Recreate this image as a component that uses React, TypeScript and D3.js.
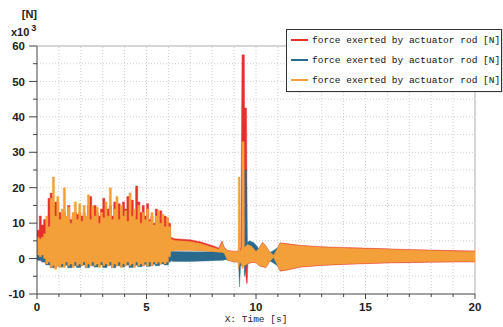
import React, { useEffect, useRef } from "react";
import * as d3 from "d3";

// envelopes of the three signals: [time s, upper, lower] in kN
const redBand: [number, number, number][] = [
  [0.0, 8, 0], [0.1, 12, -0.5], [0.2, 9.5, 0], [0.3, 11, -1], [0.4, 10, -1.5],
  [0.5, 17, -1], [0.6, 18.5, -2], [0.7, 15, -2], [0.8, 16, -2.5], [0.9, 16, -2],
  [1.0, 13, -2], [1.1, 12, -1.5], [1.2, 13, -2], [1.3, 10, -1], [1.4, 15, -2],
  [1.5, 11, -1.5], [1.6, 12, -2], [1.7, 13, -1], [1.8, 12.5, -2], [1.9, 13, -1.5],
  [2.0, 12, -2], [2.1, 13, -1], [2.2, 11, -2], [2.3, 15, -1.5], [2.4, 17.5, -2],
  [2.5, 12, -1], [2.6, 15, -2], [2.7, 13, -1.5], [2.8, 12, -2], [2.9, 14, -1],
  [3.0, 17, -2], [3.1, 13, -1.5], [3.2, 14, -2], [3.3, 15, -1], [3.4, 12, -2],
  [3.5, 16, -1.5], [3.6, 13, -2], [3.7, 15.5, -1], [3.8, 12, -2], [3.9, 16, -1.5],
  [4.0, 14, -2], [4.1, 17.5, -1], [4.2, 15, -2], [4.3, 16.5, -1.5], [4.4, 12, -2],
  [4.5, 20.5, -1], [4.6, 16, -2], [4.7, 13, -1.5], [4.8, 15, -2], [4.9, 12, -1],
  [5.0, 15.5, -2], [5.1, 11, -1], [5.2, 12, -2], [5.3, 10, -1], [5.4, 14, -1.5],
  [5.5, 12, -1], [5.6, 13.5, -1.5], [5.7, 11, -1], [5.8, 12, -1.5], [5.9, 11.5, -1],
  [6.0, 10, 0.5], [6.1, 6, 2], [6.3, 5.6, 2.4], [7.0, 5.3, 2.4], [7.5, 4.7, 2.3],
  [8.0, 3.7, 2], [8.3, 3, 1.8], [8.45, 5, 1.8], [8.55, 3.2, 1.5], [8.7, 2.3, -0.5],
  [9.0, 2.1, -1], [9.15, 2.1, -1], [9.3, 3, -2], [9.36, 57.5, -2], [9.47, 57.5, -2],
  [9.48, 42.5, -2], [9.57, 42.5, -7], [9.6, 4, -7], [9.63, 4, -1.5], [9.8, 3.6, -1.1],
  [10.0, 2.1, -1.1], [10.15, 3.1, -2.1], [10.3, 4.6, -2.3], [10.45, 3.6, -2.6],
  [10.6, 2.1, -1.1], [10.8, 1.1, 0.2], [10.95, 2.6, -1.6], [11.1, 4.45, -3.55],
  [11.5, 4.15, -3.15], [12, 3.75, -2.45], [13, 3.35, -1.95], [14, 3.15, -1.65],
  [15, 2.95, -1.45], [16, 2.75, -1.25], [17, 2.55, -1.15], [18, 2.4, -1.05],
  [19, 2.25, -1.0], [20, 2.15, -0.95],
];

const blueBand: [number, number, number][] = [
  [0.0, 4, -0.5], [0.2, 5, -1], [0.4, 7, -1.8], [0.6, 8, -2.6], [0.8, 8, -1.8],
  [1.0, 8, -2.4], [1.2, 8, -1.9], [1.4, 8, -2.6], [1.6, 8, -2], [1.8, 8, -2.5],
  [2.0, 8, -1.8], [2.2, 8, -2.6], [2.4, 8, -2], [2.6, 8, -2.4], [2.8, 8, -1.8],
  [3.0, 8, -2.5], [3.2, 8, -1.9], [3.4, 8, -2.6], [3.6, 8, -2], [3.8, 8, -2.4],
  [4.0, 8, -1.8], [4.2, 8, -2.5], [4.4, 8, -1.9], [4.6, 8, -2.3], [4.8, 8, -1.7],
  [5.0, 8, -2.2], [5.2, 8, -1.6], [5.4, 7, -2], [5.6, 7, -1.5], [5.8, 6, -1.8],
  [6.0, 5, -1], [6.1, 2, -0.5], [6.2, 2, -0.8], [7.0, 1.9, -0.8], [8.0, 1.9, -0.6],
  [8.5, 1.8, -0.5], [8.6, 1.5, -0.3], [9.0, 1.5, -0.5], [9.2, 1.5, -1], [9.25, 1, -8],
  [9.3, 1, -1], [9.46, 3, -2], [9.47, 25, -5], [9.56, 25, -2], [9.6, 4.5, -1],
  [9.7, 5, -0.5], [9.9, 4.5, 0], [10.05, 3.5, 0], [10.2, 2, -1], [10.6, 1.5, -0.5],
  [11.1, 3.5, -2.5], [12, 3, -1.8], [14, 2.5, -1.2], [16, 2.1, -0.8], [18, 1.8, -0.5],
  [20, 1.5, -0.3],
];

const orangeBand: [number, number, number][] = [
  [0.0, 6, 1], [0.1, 5.5, 0.5], [0.2, 6, 1], [0.3, 7, 0], [0.4, 12, -1.5],
  [0.5, 9, -1], [0.6, 17, -2.5], [0.7, 23, -2], [0.8, 12, -3], [0.9, 17.5, -2],
  [1.0, 11, -2.5], [1.1, 14, -1.5], [1.2, 20, -2.5], [1.3, 12, -1], [1.4, 14.5, -2],
  [1.5, 10, -1.5], [1.6, 13, -2.5], [1.7, 16, -1], [1.8, 11, -2], [1.9, 15.5, -1.5],
  [2.0, 10.5, -2], [2.1, 15, -1], [2.2, 12, -2.5], [2.3, 18, -1.5], [2.4, 11, -2],
  [2.5, 15, -1], [2.6, 12, -2], [2.7, 14.5, -1.5], [2.8, 10, -2.5], [2.9, 13, -1],
  [3.0, 11.5, -2], [3.1, 16, -1.5], [3.2, 12, -2], [3.3, 20, -1], [3.4, 11, -2.5],
  [3.5, 14, -1.5], [3.6, 17.5, -2], [3.7, 11, -1], [3.8, 15, -2.5], [3.9, 12, -1.5],
  [4.0, 13.5, -2], [4.1, 10.5, -1], [4.2, 18.5, -2], [4.3, 12, -1.5], [4.4, 14, -2.5],
  [4.5, 11, -1], [4.6, 15, -2], [4.7, 10, -1.5], [4.8, 13, -2], [4.9, 11, -1],
  [5.0, 14, -2], [5.1, 10.5, -1], [5.2, 13, -2], [5.3, 9.5, -1], [5.4, 12, -1.5],
  [5.5, 13.5, -1], [5.6, 10, -1.5], [5.7, 12.5, -1], [5.8, 9, -1.5], [5.9, 11.5, -1],
  [6.0, 9, 0.5], [6.1, 5.5, 2], [6.3, 5.1, 2.3], [7.0, 4.8, 2.3], [7.5, 4.2, 2.2],
  [8.0, 3.2, 2], [8.3, 2.6, 1.8], [8.45, 4.6, 1.8], [8.55, 3, 1.5], [8.7, 2.2, -0.5],
  [9.0, 2, -0.8], [9.18, 2, -1], [9.19, 23, -3], [9.27, 23, -1], [9.28, 2, -1],
  [9.35, 3, -2], [9.36, 33, -3], [9.46, 33, -2], [9.47, 3, -2], [9.6, 4, -1.5],
  [9.8, 3.5, -1], [10.0, 2, -1], [10.15, 3, -2], [10.3, 4.5, -2.2], [10.45, 3.5, -2.5],
  [10.6, 2, -1], [10.8, 1, 0.3], [10.95, 2.5, -1.5], [11.1, 4.3, -3.4],
  [11.5, 4.0, -3.0], [12, 3.6, -2.3], [13, 3.2, -1.8], [14, 3.0, -1.5], [15, 2.8, -1.3],
  [16, 2.6, -1.1], [17, 2.4, -1.0], [18, 2.25, -0.9], [19, 2.1, -0.85], [20, 2.0, -0.8],
];

const seriesNames = [
  "force exerted by actuator rod [N]",
  "force exerted by actuator rod [N]",
  "force exerted by actuator rod [N]",
];
const seriesColors = ["#e5302d", "#2a6a8c", "#f4a03a"];
const xTicks = [0, 5, 10, 15, 20];
const yTicks = [-10, 0, 10, 20, 30, 40, 50, 60];
// the dense burst before 6.1 s is drawn as bars, the rest as a smooth band
const burstEnd = 6.1;

type Pt = [number, number, number];

const App = () => {
  const svgRef = useRef<SVGSVGElement>(null);

  useEffect(() => {
    const width = 503;
    const height = 327;
    const margin = { top: 46, right: 28, bottom: 33, left: 37 };

    const svg = d3.select(svgRef.current);
    svg.selectAll("*").remove();

    const x = d3.scaleLinear().domain([0, 20]).range([margin.left, width - margin.right]);
    const y = d3.scaleLinear().domain([-10, 60]).range([height - margin.bottom, margin.top]);

    const tickFont = "'Liberation Sans', Arial, sans-serif";
    const monoFont = "'Liberation Mono', 'DejaVu Sans Mono', monospace";

    // dotted grid
    const grid = svg.append("g").attr("stroke", "#cfcfcf").attr("stroke-dasharray", "1,2");
    d3.range(1, 20).forEach((t) => {
      grid.append("line").attr("x1", x(t)).attr("x2", x(t))
        .attr("y1", y(-10)).attr("y2", y(60));
    });
    d3.range(-5, 60, 5).forEach((v) => {
      grid.append("line").attr("x1", x(0)).attr("x2", x(20))
        .attr("y1", y(v)).attr("y2", y(v));
    });

    // top and right frame
    svg.append("line").attr("x1", x(0)).attr("x2", x(20)).attr("y1", y(60)).attr("y2", y(60))
      .attr("stroke", "#c8c8c8").attr("stroke-width", 1.5);
    svg.append("line").attr("x1", x(20)).attr("x2", x(20)).attr("y1", y(60)).attr("y2", y(-10))
      .attr("stroke", "#c8c8c8").attr("stroke-width", 1.5);

    // signals
    svg.append("clipPath").attr("id", "plotclip").append("rect")
      .attr("x", x(0)).attr("y", y(60)).attr("width", x(20) - x(0)).attr("height", y(-10) - y(60));

    const bandStep = d3.area<Pt>()
      .x((d) => x(d[0]))
      .y0((d) => y(d[2]))
      .y1((d) => y(d[1]))
      .curve(d3.curveStepAfter);
    const bandLine = d3.area<Pt>()
      .x((d) => x(d[0]))
      .y0((d) => y(d[2]))
      .y1((d) => y(d[1]));

    const bands = [redBand, blueBand, orangeBand];
    const plot = svg.append("g").attr("clip-path", "url(#plotclip)");
    bands.forEach((data, i) => {
      const burst = data.filter((d) => d[0] <= burstEnd);
      const tail = data.filter((d) => d[0] >= burstEnd - 0.1);
      plot.append("path")
        .datum(burst)
        .attr("fill", seriesColors[i])
        .attr("stroke", seriesColors[i])
        .attr("stroke-width", 0.4)
        .attr("d", bandStep);
      plot.append("path")
        .datum(tail)
        .attr("fill", seriesColors[i])
        .attr("stroke", seriesColors[i])
        .attr("stroke-width", 0.4)
        .attr("d", bandLine);
    });

    // y axis
    const yAxis = svg.append("g").attr("transform", `translate(${x(0)},0)`);
    yAxis.append("line").attr("y1", y(-10)).attr("y2", y(60)).attr("stroke", "#444");
    d3.range(-10, 61, 5).forEach((v) => {
      const major = v % 10 === 0;
      yAxis.append("line").attr("x1", major ? -8 : -4).attr("x2", 0)
        .attr("y1", y(v)).attr("y2", y(v)).attr("stroke", "#444");
    });
    yTicks.forEach((v) => {
      yAxis.append("text").attr("x", -12).attr("y", y(v)).attr("dy", "0.36em")
        .attr("text-anchor", "end").attr("font-family", tickFont).attr("font-weight", "bold")
        .attr("font-size", 11.5).attr("fill", "#222").text(v);
    });

    // x axis
    const xAxis = svg.append("g").attr("transform", `translate(0,${y(-10)})`);
    xAxis.append("line").attr("x1", x(0)).attr("x2", x(20)).attr("stroke", "#444");
    d3.range(0, 21, 1).forEach((t) => {
      const major = t % 5 === 0;
      xAxis.append("line").attr("x1", x(t)).attr("x2", x(t))
        .attr("y1", 0).attr("y2", major ? 5 : 3).attr("stroke", "#444");
    });
    xTicks.forEach((t) => {
      xAxis.append("text").attr("x", x(t)).attr("y", 17)
        .attr("text-anchor", "middle").attr("font-family", tickFont).attr("font-weight", "bold")
        .attr("font-size", 11.5).attr("fill", "#222").text(t);
    });

    svg.append("text").attr("x", (x(0) + x(20)) / 2).attr("y", 322)
      .attr("text-anchor", "middle").attr("font-family", monoFont).attr("font-size", 9.5)
      .attr("fill", "#222").text("X: Time [s]");

    // unit labels
    svg.append("text").attr("x", 37).attr("y", 18).attr("text-anchor", "end")
      .attr("font-family", tickFont).attr("font-weight", "bold").attr("font-size", 11)
      .attr("fill", "#222").text("[N]");
    const mult = svg.append("text").attr("x", 11).attr("y", 36)
      .attr("font-family", tickFont).attr("font-weight", "bold").attr("font-size", 11).attr("fill", "#222");
    mult.append("tspan").text("x10");
    mult.append("tspan").attr("dx", 2).attr("dy", -5).attr("font-size", 9).text("3");

    // legend
    const lg = svg.append("g").attr("transform", "translate(286,29)");
    lg.append("rect").attr("x", 1.5).attr("y", 1.5).attr("width", 216).attr("height", 62)
      .attr("fill", "#bbb").attr("opacity", 0.5);
    lg.append("rect").attr("x", 0.5).attr("y", 0.5).attr("width", 215).attr("height", 62)
      .attr("fill", "#fff").attr("stroke", "#333");
    seriesNames.forEach((name, i) => {
      const cy = 11 + i * 20;
      lg.append("line").attr("x1", 5).attr("x2", 22).attr("y1", cy).attr("y2", cy)
        .attr("stroke", seriesColors[i]).attr("stroke-width", 2);
      lg.append("text").attr("x", 26).attr("y", cy).attr("dy", "0.35em")
        .attr("font-family", monoFont).attr("font-size", 9.5).attr("fill", "#111").text(name);
    });
  }, []);

  return (
    <svg
      ref={svgRef}
      width={503}
      height={327}
      style={{ position: "absolute", left: 0, top: 0, background: "#fff" }}
    ></svg>
  );
};

export default App;
